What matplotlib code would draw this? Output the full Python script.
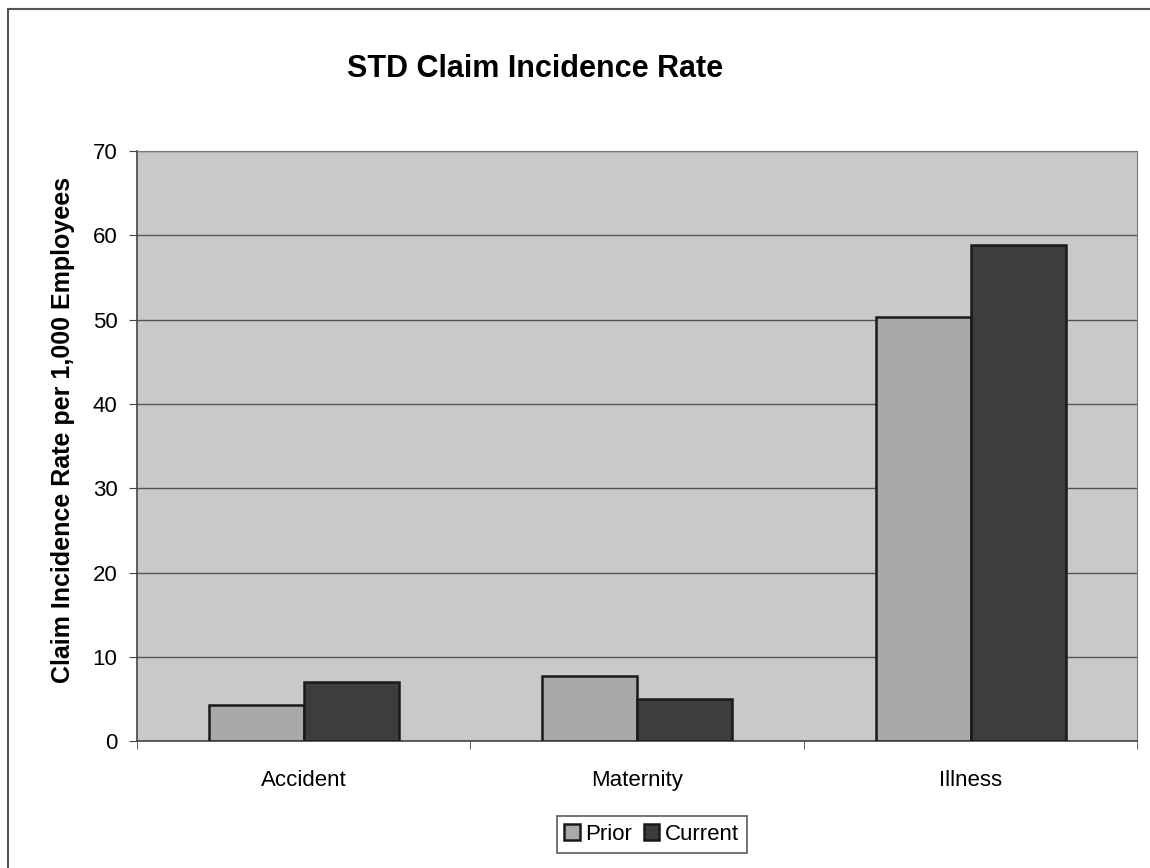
import numpy as np
import matplotlib
matplotlib.use("Agg")
import matplotlib.pyplot as plt
from matplotlib.patches import Rectangle

plt.rcParams['font.family'] = ['Liberation Sans', 'DejaVu Sans']

# Data
categories = ['Accident', 'Maternity', 'Illness']
prior = [4.3, 7.7, 50.3]
current = [7.0, 5.0, 58.9]
series_names = ['Prior', 'Current']
yticks = [0, 10, 20, 30, 40, 50, 60, 70]

fig = plt.figure(figsize=(11.5, 8.68), dpi=100)
fig.patch.set_facecolor('white')

# outer chart frame
fig.add_artist(Rectangle((0.007, -0.01), 1.0, 1.0, transform=fig.transFigure,
                         fill=False, edgecolor='#555555', linewidth=1.5))

ax = fig.add_axes([0.119, 0.146, 0.870, 0.680])
ax.set_facecolor('#c9c9c9')

x = np.arange(len(categories))
w = 0.285
ax.bar(x - w / 2, prior, w, color='#a9a9a9', edgecolor='#1a1a1a', linewidth=1.8,
       label=series_names[0], zorder=3)
ax.bar(x + w / 2, current, w, color='#3d3d3d', edgecolor='#1a1a1a', linewidth=1.8,
       label=series_names[1], zorder=3)

ax.set_xlim(-0.5, len(categories) - 0.5)
ax.set_ylim(0, 70)
ax.set_yticks(yticks)
ax.set_xticks(x)
ax.set_xticklabels(categories, fontsize=16)
ax.tick_params(axis='y', labelsize=16, length=6, color='#444444', pad=8)
ax.tick_params(axis='x', length=0, pad=21)
# category separator ticks
ax.set_xticks(np.arange(-0.5, len(categories)), minor=True)
ax.tick_params(axis='x', which='minor', length=6, color='#444444')

ax.yaxis.grid(True, color='#555555', linewidth=1.0, zorder=0)
ax.set_axisbelow(True)
for side in ['top', 'right']:
    ax.spines[side].set_color('#777777')
for side in ['left', 'bottom']:
    ax.spines[side].set_color('#444444')
    ax.spines[side].set_linewidth(1.2)

ax.set_ylabel('Claim Incidence Rate per 1,000 Employees', fontsize=18,
              fontweight='bold')
ax.yaxis.set_label_coords(-0.062, 0.527)
fig.text(0.465, 0.921, 'STD Claim Incidence Rate', ha='center', va='center',
         fontsize=22, fontweight='bold')

leg = ax.legend(loc='upper center', bbox_to_anchor=(0.5145, -0.127), ncol=2,
                fontsize=16, frameon=True, fancybox=False, edgecolor='#333333',
                handlelength=0.7, handleheight=0.7, handletextpad=0.25,
                columnspacing=0.5, borderpad=0.35, borderaxespad=0)
leg.get_frame().set_linewidth(1.2)

fig.savefig('out.png', dpi=100)
